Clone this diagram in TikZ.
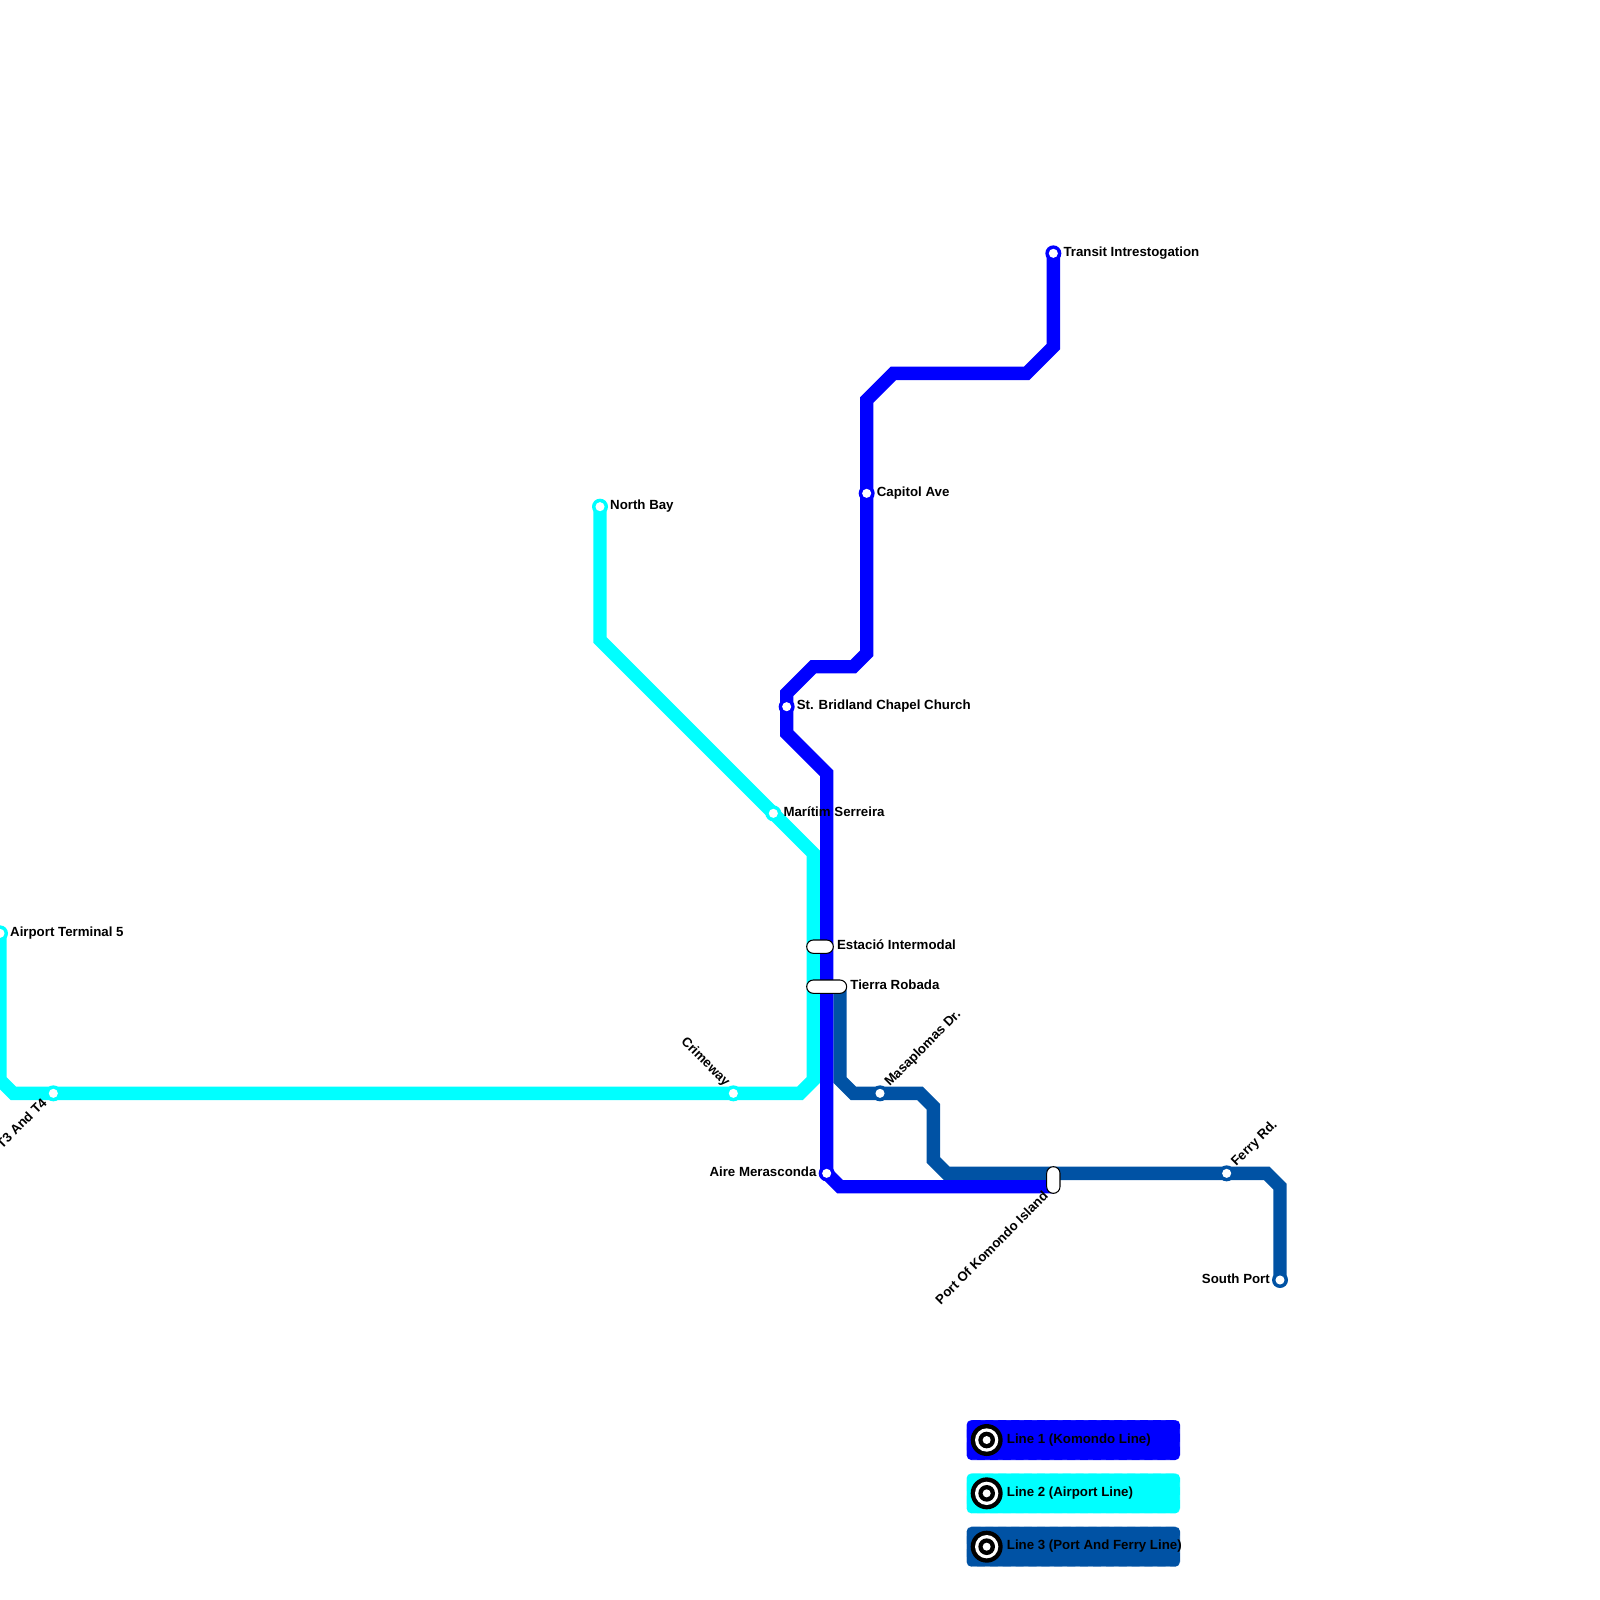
\documentclass[tikz,border=0pt]{standalone}
\usepackage{fontspec}
\setmainfont{Liberation Sans}
\usetikzlibrary{calc,positioning}
\definecolor{lineone}{RGB}{0,0,255}
\definecolor{linetwo}{RGB}{0,255,255}
\definecolor{linethree}{RGB}{0,82,164}
\tikzset{
  track/.style={line width=4mm,miter limit=4},
  lab/.style={font=\bfseries\fontsize{11.33}{13}\selectfont,inner sep=0pt,text=black,text height=8pt,text depth=2.4pt},
  pill/.style={draw=black,fill=white,line width=.9pt,rounded corners=2mm},
  legendbox/.style={rounded corners=1.4mm},
}
\begin{document}
\begin{tikzpicture}[x=4mm,y=-4mm]
\useasboundingbox (0,0) rectangle (120,120);

% stations
\coordinate (transit) at (79,19);
\coordinate (capitol) at (65,37);
\coordinate (bridland) at (59,53);
\coordinate (aire) at (62,88);
\coordinate (northbay) at (45,38);
\coordinate (maritim) at (58,61);
\coordinate (crimeway) at (55,82);
\coordinate (tthree) at (4,82);
\coordinate (terminal) at (0,70);
\coordinate (tierra) at (63,74);
\coordinate (masap) at (66,82);
\coordinate (ferry) at (92,88);
\coordinate (southport) at (96,96);
\coordinate (komondo) at (79,89);

% lines
\draw[track,linetwo] (northbay)--(45,48)--(61,64)--(61,81)--(60,82)--(1,82)--(0,81)--(terminal);
\draw[track,linethree] (tierra)--(63,81)--(64,82)--(69,82)--(70,83)--(70,87)--(71,88)--(95,88)--(96,89)--(southport);
\draw[track,lineone] (transit)--(79,26)--(77,28)--(67,28)--(65,30)--(65,49)--(64,50)--(61,50)--(59,52)--(59,55)--(62,58)--(aire)--(63,89)--(komondo);

% ordinary stops
\foreach \s in {transit,capitol,bridland,aire} {
  \fill[lineone] (\s) circle (.6);
  \fill[white] (\s) circle (.34);
}
\foreach \s in {northbay,maritim,crimeway,tthree,terminal} {
  \fill[linetwo] (\s) circle (.6);
  \fill[white] (\s) circle (.34);
}
\foreach \s in {masap,ferry,southport} {
  \fill[linethree] (\s) circle (.6);
  \fill[white] (\s) circle (.34);
}

% interchanges
\draw[pill] (60.5,70.5) rectangle (62.5,71.5);
\draw[pill] (60.5,73.5) rectangle (63.5,74.5);
\draw[pill] (78.5,87.5) rectangle (79.5,89.5);
\coordinate (estacio) at (62.5,71);
\coordinate (tierrae) at (63.5,74);

% labels
\node[lab,right=8.5pt of transit] (transitlab) {Transit Intrestogation};
\node[lab,right=8.5pt of capitol] (capitollab) {Capitol Ave};
\node[lab,right=8.5pt of bridland] (bridlandlab) {St. Bridland Chapel Church};
\node[lab,left=8.5pt of aire] (airelab) {Aire Merasconda};
\node[lab,right=8.5pt of northbay] (northbaylab) {North Bay};
\node[lab,right=8.5pt of maritim] (maritimlab) {Marítim Serreira};
\node[lab,right=8.5pt of terminal] (terminallab) {Airport Terminal 5};
\node[lab,right=3pt of estacio] (estaciolab) {Estació Intermodal};
\node[lab,right=3pt of tierrae] (tierralab) {Tierra Robada};
\node[lab,left=8.5pt of southport] (southportlab) {South Port};
\node[lab,rotate=45,anchor=west] (masaplab) at ($(masap)+(.55,-.65)$) {Masaplomas Dr.};
\node[lab,rotate=45,anchor=west] (ferrylab) at ($(ferry)+(.55,-.65)$) {Ferry Rd.};
\node[lab,rotate=45,anchor=east] (komondolab) at ($(komondo)+(-.5,.6)$) {Port Of Komondo Island};
\node[lab,rotate=45,anchor=east] (tthreelab) at ($(tthree)+(-.6,.6)$) {T3 And T4};
\node[lab,rotate=-45,anchor=east] (crimewaylab) at ($(crimeway)+(-.45,-.65)$) {Crimeway};

% legend
\foreach \y/\c/\t in {108/lineone/Line 1 (Komondo Line),112/linetwo/Line 2 (Airport Line),116/linethree/Line 3 (Port And Ferry Line)} {
  \fill[\c,legendbox] (72.5,\y-1.5) rectangle (88.5,\y+1.5);
  \draw[white,opacity=.3,line width=.5pt,dash pattern=on 4pt off 7pt,legendbox] (72.5,\y-1.5) rectangle (88.5,\y+1.5);
  \fill[black] (74,\y) circle (1.2);
  \fill[white] (74,\y) circle (.875);
  \fill[black] (74,\y) circle (.625);
  \fill[white] (74,\y) circle (.3);
  \node[lab,anchor=west] (legend\y) at (75.5,\y) {\t};
}
\end{tikzpicture}
\end{document}
